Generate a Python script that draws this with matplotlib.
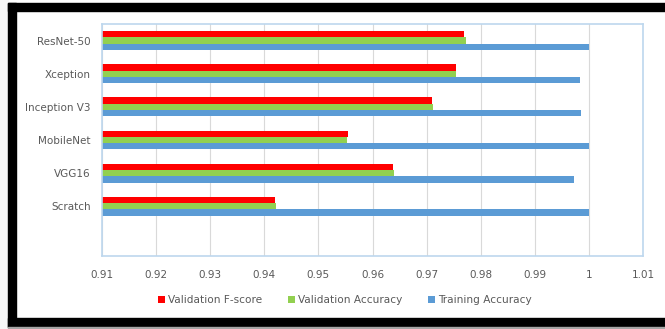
import numpy as np
import matplotlib.pyplot as plt
from matplotlib.patches import Rectangle

# data (bottom slot of the chart is empty)
models = ['', 'Scratch', 'VGG16', 'MobileNet', 'Inception V3', 'Xception', 'ResNet-50']
f_score = [np.nan, 0.9420, 0.9638, 0.9554, 0.9710, 0.9754, 0.9769]
val_acc = [np.nan, 0.9422, 0.9639, 0.9553, 0.9711, 0.9755, 0.9773]
train_acc = [np.nan, 1.0, 0.9972, 1.0, 0.9986, 0.9983, 1.0]
xticks = [0.91, 0.92, 0.93, 0.94, 0.95, 0.96, 0.97, 0.98, 0.99, 1.0, 1.01]
xticklabels = ['0.91', '0.92', '0.93', '0.94', '0.95', '0.96', '0.97', '0.98', '0.99', '1', '1.01']

fig = plt.figure(figsize=(6.65, 3.29), dpi=100)
W, H = 665, 329
ax = fig.add_axes([102 / W, 1 - 256 / H, (643 - 102) / W, (256 - 24) / H])

y = np.arange(len(models))
h = 0.19
base = 0.91
ax.barh(y + h, np.array(f_score) - base, h, left=base, color='#FF0000', label='Validation F-score')
ax.barh(y, np.array(val_acc) - base, h, left=base, color='#92D050', label='Validation Accuracy')
ax.barh(y - h, np.array(train_acc) - base, h, left=base, color='#5B9BD5', label='Training Accuracy')

ax.set_xlim(0.91, 1.01)
ax.set_ylim(-0.5, len(models) - 0.5)
ax.set_xticks(xticks)
ax.set_xticklabels(xticklabels)
ax.set_yticks(y)
ax.set_yticklabels(models)
ax.tick_params(length=0, labelsize=7.5, colors='#595959', pad=8)
ax.tick_params(axis='x', pad=10)
ax.grid(axis='x', color='#D9D9D9', linewidth=0.8)
ax.set_axisbelow(True)
for s in ax.spines.values():
    s.set_color('#BDD7EE')
    s.set_linewidth(1.2)

fig.legend(loc='center', bbox_to_anchor=(345 / W, 1 - 300 / H), ncol=3, frameon=False,
           fontsize=7.6, handlelength=0.7, handleheight=0.7, handletextpad=0.3, columnspacing=2.4,
           labelcolor='#595959')

# black frame around the picture
def px_rect(x0, y0, x1, y1, color):
    fig.patches.append(Rectangle((x0 / W, 1 - y1 / H), (x1 - x0) / W, (y1 - y0) / H,
                                 transform=fig.transFigure, color=color, zorder=10))

px_rect(0, 0, 8, 329, '#F7F7F7')
px_rect(8, 3, 665, 11, 'black')
px_rect(8, 3, 16, 327, 'black')
px_rect(8, 318, 665, 327, 'black')
px_rect(8, 327, 665, 329, '#A6A6A6')

fig.savefig('out.png', dpi=100)
